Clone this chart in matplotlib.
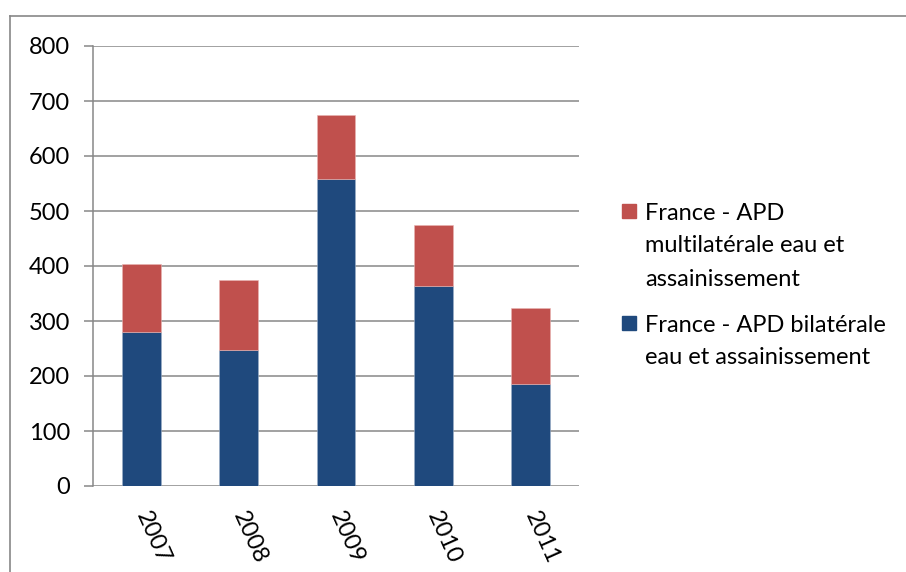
import matplotlib
matplotlib.use("Agg")
import matplotlib.pyplot as plt
from matplotlib.lines import Line2D
from matplotlib.patches import Rectangle

plt.rcParams['font.family'] = ['Lato', 'DejaVu Sans']

years = ["2007", "2008", "2009", "2010", "2011"]
bilateral = [280, 248, 558, 364, 185]
multilateral = [123, 127, 117, 111, 138]
yticks = [0, 100, 200, 300, 400, 500, 600, 700, 800]

label_multi = "France - APD\nmultilatérale eau et\nassainissement"
label_bi = "France - APD bilatérale\neau et assainissement"

blue = "#1F497D"
red = "#C0504D"
grey = "#878787"
fs = 17

W, H = 906, 572
fig = plt.figure(figsize=(W / 100, H / 100), dpi=100)
ax = fig.add_axes([93 / W, 1 - 486 / H, (579 - 93) / W, (486 - 46) / H])

x = range(len(years))
ax.bar(x, bilateral, width=0.4, color=blue, edgecolor="#9db0c8", linewidth=0.4, zorder=3)
ax.bar(x, multilateral, width=0.4, bottom=bilateral, color=red,
       edgecolor="#e8b4b3", linewidth=0.4, zorder=3)

ax.set_xlim(-0.5, len(years) - 0.5)
ax.set_ylim(0, 800)
ax.set_yticks(yticks)
ax.yaxis.grid(True, color=grey, linewidth=1.1, zorder=0)
ax.set_axisbelow(True)

for s in ["top", "right", "bottom"]:
    ax.spines[s].set_visible(False)
ax.spines["left"].set_color(grey)
ax.spines["left"].set_linewidth(1.1)

ax.tick_params(axis="y", length=6.5, width=1.1, color=grey, labelsize=fs, pad=10)
ax.tick_params(axis="x", length=0, labelsize=fs, pad=19)
ax.set_xticks(list(x))
ax.set_xticklabels(years, rotation=-66, ha="left", va="center", rotation_mode="anchor")

# frame of the chart area (runs off the right and bottom edges)
fig.add_artist(Line2D([10 / W, 10 / W], [0, 1 - 16 / H], color=grey, lw=1.2))
fig.add_artist(Line2D([10 / W, 1], [1 - 16 / H, 1 - 16 / H], color=grey, lw=1.2))

# legend, drawn by hand so the square sits next to the first line
entries = [(label_multi, red, 211), (label_bi, blue, 323)]
line_h = 33
for label, col, yc in entries:
    fig.add_artist(Rectangle((622 / W, 1 - (yc + 7) / H), 14 / W, 14 / H,
                             transform=fig.transFigure, color=col))
    for i, line in enumerate(label.split("\n")):
        fig.text(645 / W, 1 - (yc + i * line_h) / H, line, fontsize=fs,
                 ha="left", va="center_baseline", color="black")

fig.savefig("out.png", dpi=100)
